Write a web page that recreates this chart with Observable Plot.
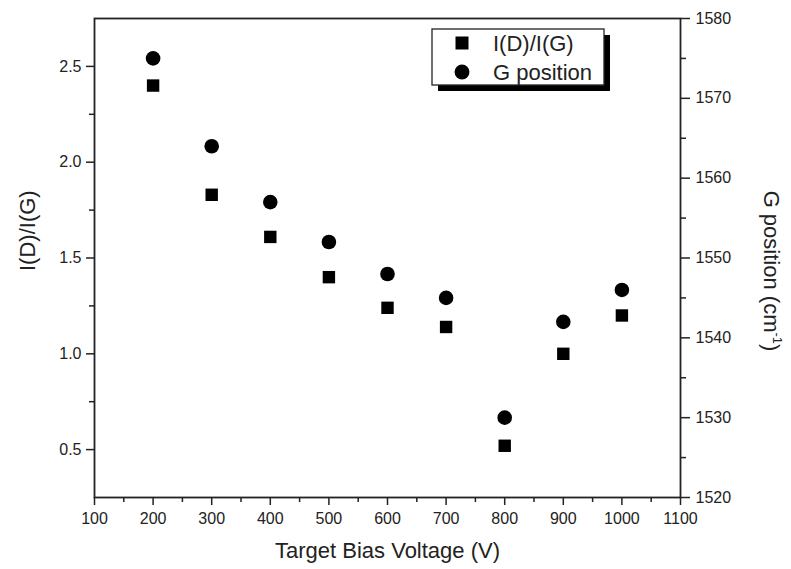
<!DOCTYPE html>
<html><head><meta charset="utf-8">
<script src="https://cdn.jsdelivr.net/npm/d3@7"></script>
<script src="https://cdn.jsdelivr.net/npm/@observablehq/plot@0.6"></script>
<style>
body{margin:0;background:#fff;}
#chart svg{font-family:"Liberation Sans",Arial,sans-serif;}
</style>
</head><body><div id="chart"></div>
<script>
const voltage = [200, 300, 400, 500, 600, 700, 800, 900, 1000];
const ratioDG = [2.40, 1.83, 1.61, 1.40, 1.24, 1.14, 0.52, 1.00, 1.20];
const gPosition = [1575, 1564, 1557, 1552, 1548, 1545, 1530, 1542, 1546];
const xTicks = [100, 200, 300, 400, 500, 600, 700, 800, 900, 1000, 1100];
const xMinor = [150, 250, 350, 450, 550, 650, 750, 850, 950, 1050];
const leftTicks = [0.5, 1.0, 1.5, 2.0, 2.5];
const leftMinor = [0.75, 1.25, 1.75, 2.25];
const rightTicks = [1520, 1530, 1540, 1550, 1560, 1570, 1580];
const rightMinor = [1525, 1535, 1545, 1555, 1565, 1575];
const xDomain = [100, 1100];
const leftDomain = [0.25, 2.75];
const rightDomain = [1520, 1580];
const seriesNames = ["I(D)/I(G)", "G position"];
const xTitle = "Target Bias Voltage (V)";
const leftTitle = "I(D)/I(G)";

const toLeft = g => leftDomain[0] + (g - rightDomain[0]) / (rightDomain[1] - rightDomain[0]) * (leftDomain[1] - leftDomain[0]);
const toRight = v => rightDomain[0] + (v - leftDomain[0]) / (leftDomain[1] - leftDomain[0]) * (rightDomain[1] - rightDomain[0]);

const W = 791, H = 569;
const mL = 94, mR = 111, mT = 18, mB = 72;
const ink = "#222";
const tickW = 1.5;
const fs = 16;

const chart = Plot.plot({
  width: W, height: H,
  marginLeft: mL, marginRight: mR, marginTop: mT, marginBottom: mB,
  style: {fontSize: "16px", fontFamily: "'Liberation Sans', Arial, sans-serif", color: ink, background: "white"},
  x: {domain: xDomain},
  y: {domain: leftDomain},
  marks: [
    Plot.frame({stroke: "#222", strokeWidth: 1.8}),
    Plot.axisX({ticks: xTicks, tickSize: 8, tickPadding: 7, fontSize: fs, tickFormat: d => String(d), label: null, strokeWidth: tickW}),
    Plot.axisX({ticks: xMinor, tickSize: 5, tickFormat: () => "", label: null, strokeWidth: tickW}),
    Plot.axisY({ticks: leftTicks, tickSize: 8, tickPadding: 5, fontSize: fs, tickFormat: d => d.toFixed(1), label: null, strokeWidth: tickW}),
    Plot.axisY({ticks: leftMinor, tickSize: 5, tickFormat: () => "", label: null, strokeWidth: tickW}),
    Plot.axisY({anchor: "right", ticks: rightTicks.map(toLeft), tickSize: 9, tickPadding: 6, fontSize: fs, tickFormat: d => String(Math.round(toRight(d))), label: null, strokeWidth: tickW}),
    Plot.axisY({anchor: "right", ticks: rightMinor.map(toLeft), tickSize: 5, tickFormat: () => "", label: null, strokeWidth: tickW}),
    Plot.dot(voltage, {x: d => d, y: (d, i) => ratioDG[i], symbol: "square", r: 7, fill: "black", stroke: "none"}),
    Plot.dot(voltage, {x: d => d, y: (d, i) => toLeft(gPosition[i]), symbol: "circle", r: 7.3, fill: "black", stroke: "none"}),
    Plot.text([xTitle], {frameAnchor: "bottom", dy: 60, fontSize: 22, fill: ink}),
    Plot.text([leftTitle], {frameAnchor: "left", dx: -67, dy: 13, rotate: -90, fontSize: 22, fill: ink})
  ]
});
document.getElementById("chart").appendChild(chart);

const svg = d3.select(chart);
// Right axis title with superscript
const rt = svg.append("text")
  .attr("transform", `translate(772,271) rotate(90)`)
  .attr("text-anchor", "middle")
  .attr("dy", "0.35em")
  .attr("font-size", 22)
  .attr("fill", ink);
rt.append("tspan").text("G position (cm");
rt.append("tspan").attr("dy", -9).attr("font-size", 13).text("-1");
rt.append("tspan").attr("dy", 9).text(")");

// Legend
const lg = svg.append("g");
const bx = 432, by = 29, bw = 172, bh = 56;
lg.append("rect").attr("x", bx + 6).attr("y", by + 6).attr("width", bw).attr("height", bh).attr("fill", "black");
lg.append("rect").attr("x", bx).attr("y", by).attr("width", bw).attr("height", bh).attr("fill", "white").attr("stroke", "#222").attr("stroke-width", 1.3);
lg.append("path").attr("d", d3.symbol(d3.symbolSquare, 169)()).attr("transform", `translate(${bx + 30},${by + 14})`).attr("fill", "black");
lg.append("path").attr("d", d3.symbol(d3.symbolCircle, 175)()).attr("transform", `translate(${bx + 30},${by + 43})`).attr("fill", "black");
seriesNames.forEach((s, i) => {
  lg.append("text").attr("x", bx + 61).attr("y", by + 14 + i * 29).attr("dy", "0.35em")
    .attr("text-anchor", "start")
    .attr("font-size", 22).attr("fill", ink).text(s);
});
</script>
</body></html>
